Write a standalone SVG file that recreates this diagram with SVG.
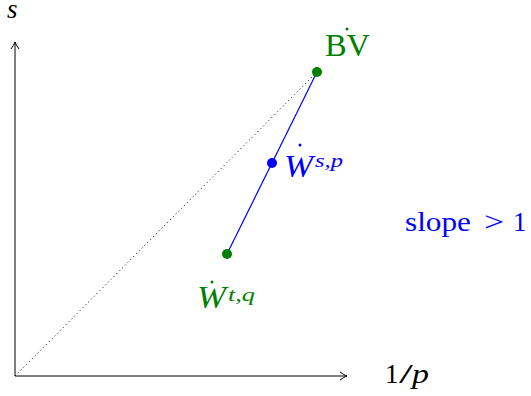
<svg xmlns="http://www.w3.org/2000/svg" width="531" height="396" viewBox="0 0 531 396">
<style>
text{font-family:"Liberation Serif","Times New Roman",serif;}
.i{font-style:italic;}
.g{fill:#008000;}
.b{fill:#0000ff;}
.k{fill:#000;}
.ax{stroke:#000;stroke-width:1;fill:none;}
</style>
<defs>
<marker id="arr" viewBox="0 0 10 10" refX="9" refY="5" markerWidth="10" markerHeight="10" markerUnits="userSpaceOnUse" orient="auto">
<path d="M2,1 Q6,4 9,5 Q6,6 2,9" fill="none" stroke="#000" stroke-width="1"/>
</marker>
</defs>
<g id="axes">
<line class="ax" x1="15" y1="376" x2="15" y2="42" marker-end="url(#arr)"/>
<line class="ax" x1="15" y1="376" x2="347" y2="376" marker-end="url(#arr)"/>
<text class="i k" x="7" y="18" style="font-size:27px">s</text>
<text class="k" x="385" y="383" style="font-size:27px">1</text>
<text class="k" x="399" y="383" style="font-size:28px" textLength="14" lengthAdjust="spacingAndGlyphs">/</text>
<text class="i k" x="412" y="383" style="font-size:27px" textLength="17" lengthAdjust="spacingAndGlyphs">p</text>
</g>
<g id="connectors">
<line x1="15" y1="376" x2="317" y2="72" stroke="#000" stroke-width="1" stroke-dasharray="1 3"/>
<line x1="227" y1="254" x2="317" y2="72" stroke="#0000ff" stroke-width="1.2"/>
</g>
<g id="BV">
<circle cx="317" cy="72" r="5" fill="#008000"/>
<text class="g" x="325" y="56" style="font-size:32px" textLength="45" lengthAdjust="spacingAndGlyphs">BV</text>
<circle cx="347" cy="29" r="1.5" fill="#008000"/>
</g>
<g id="Wsp">
<circle cx="272" cy="163" r="5" fill="#0000ff"/>
<text class="i b" x="284" y="177" style="font-size:32px" textLength="29" lengthAdjust="spacingAndGlyphs">W</text>
<circle cx="300" cy="145" r="1.5" fill="#0000ff"/>
<text class="i b" x="315" y="167" style="font-size:19px" textLength="28" lengthAdjust="spacingAndGlyphs">s,p</text>
</g>
<g id="Wtq">
<circle cx="227" cy="254" r="5" fill="#008000"/>
<text class="i g" x="197" y="308" style="font-size:32px" textLength="29" lengthAdjust="spacingAndGlyphs">W</text>
<circle cx="212" cy="282" r="1.5" fill="#008000"/>
<text class="i g" x="228" y="301" style="font-size:19px" textLength="27" lengthAdjust="spacingAndGlyphs">t,q</text>
</g>
<g id="slope">
<text class="b" x="405" y="231" style="font-size:27px" textLength="66" lengthAdjust="spacingAndGlyphs">slope</text>
<text class="b" x="484" y="231" style="font-size:27px" textLength="20" lengthAdjust="spacingAndGlyphs">&gt;</text>
<text class="b" x="513" y="231" style="font-size:27px">1</text>
</g>
</svg>
